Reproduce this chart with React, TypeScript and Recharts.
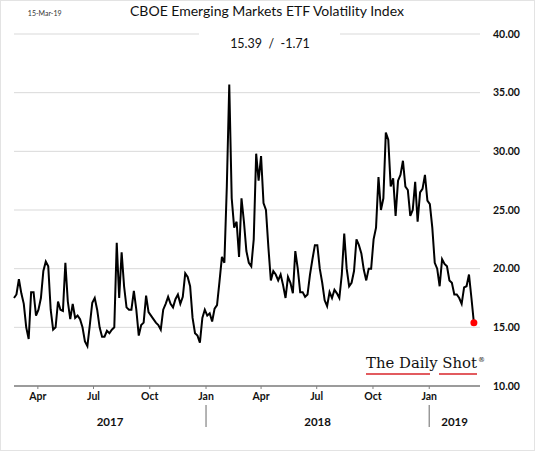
import React from "react";
import { LineChart, Line, XAxis, YAxis, CartesianGrid, ReferenceDot } from "recharts";

// day numbers count from 1-Jan-2017, one reading every 4 days
const START_DAY = 51;
const STEP_DAYS = 4;
const X_DOMAIN = [51, 813];

const vol2017 = [
  17.5, 17.8, 19.1, 17.9, 17.0, 15.0, 14.0, 18.0, 18.0, 16.0,
  16.5, 17.5, 19.8, 20.6, 20.2, 16.5, 14.8, 15.0, 17.2, 16.5,
  16.4, 20.5, 17.2, 15.7, 17.0, 15.8, 16.0, 15.7, 15.0, 13.8,
  13.4, 15.2, 17.1, 17.5, 16.5, 15.0, 14.2, 14.2, 14.7, 14.5,
  14.8, 15.0, 22.2, 17.5, 21.4, 18.5, 16.7, 16.5, 16.5, 18.1,
  16.5, 14.3, 15.2, 15.4, 17.7, 16.3, 16.0, 15.7, 15.4, 15.2,
  14.8, 16.5, 17.0, 17.6, 17.0, 16.7, 17.4, 17.8, 17.0, 17.6,
  19.6, 19.3, 18.5, 15.8, 14.5, 14.3, 13.7, 15.8, 16.5,
];

const vol2018 = [
  16.0, 16.2, 15.5, 16.6, 16.9, 18.9, 21.0, 20.5, 27.0, 35.7,
  26.0, 23.5, 24.0, 21.0, 26.0, 24.0, 21.5, 20.5, 20.2, 22.5,
  29.8, 27.5, 29.6, 25.6, 25.0, 21.8, 19.0, 19.8, 19.5, 19.0,
  19.5, 18.6, 17.5, 19.3, 18.8, 17.9, 21.5, 20.0, 18.0, 18.0,
  17.6, 17.8, 19.5, 20.8, 22.0, 22.0, 20.0, 18.8, 17.3, 16.8,
  18.0, 17.5, 18.2, 17.9, 17.5, 19.5, 23.0, 20.0, 18.5, 18.8,
  19.8, 22.5, 22.0, 21.3, 19.9, 19.0, 20.0, 20.0, 22.5, 23.5,
  27.8, 25.0, 26.0, 31.6, 31.0, 27.0, 27.7, 24.5, 27.5, 28.0,
  29.2, 27.0, 26.7, 24.5, 25.0, 27.4, 24.0, 26.5, 26.8, 28.0,
  25.8,
];

const vol2019 = [
  25.5, 23.5, 20.5, 20.0, 18.5, 20.8, 20.4, 20.2, 19.0, 18.8,
  17.8, 17.8, 17.5, 17.0, 18.4, 18.5, 19.5, 17.5, 15.39,
];

const yTicks = [10, 15, 20, 25, 30, 35, 40];
const monthTicks = [90, 181, 273, 365, 455, 546, 638, 730];
const monthLabels = ["Apr", "Jul", "Oct", "Jan", "Apr", "Jul", "Oct", "Jan"];
const yearStarts = [365, 730];
const yearLabels = ["2017", "2018", "2019"];

const volatility = [...vol2017, ...vol2018, ...vol2019];
const chartData = volatility.map((v, i) => ({ day: START_DAY + i * STEP_DAYS, value: v }));
const last = chartData[chartData.length - 1];

const bounds = [X_DOMAIN[0], ...yearStarts, X_DOMAIN[1]];
const yearMids = yearLabels.map((_, i) => (bounds[i] + bounds[i + 1]) / 2);
const yearTicks = [...yearMids, ...yearStarts].sort((a, b) => a - b);

const FONT = "Lato, 'Open Sans', sans-serif";

function YearTick(props: any) {
  const { x, y, payload } = props;
  if (yearStarts.includes(payload.value)) {
    return <line x1={x} x2={x} y1={y + 1} y2={y + 23} stroke="#8c8c8c" strokeWidth={1.3} />;
  }
  const label = yearLabels[yearMids.indexOf(payload.value)];
  return (
    <text x={x} y={y + 22} textAnchor="middle" fontSize={11.5} fontWeight={700} fontFamily={FONT} fill="#111">
      {label}
    </text>
  );
}

export default function App() {
  return (
    <div style={{ position: "absolute", left: 0, top: 0, width: 540, height: 454, background: "#fff" }}>
      <LineChart
        width={540}
        height={454}
        data={chartData}
        margin={{ top: 34, right: 0, bottom: 19, left: 14 }}
      >
        <CartesianGrid vertical={false} stroke="#d9d9d9" strokeWidth={1} />
        <XAxis
          dataKey="day"
          type="number"
          domain={X_DOMAIN}
          ticks={monthTicks}
          interval={0}
          height={18}
          tickFormatter={(v) => monthLabels[monthTicks.indexOf(v)]}
          axisLine={{ stroke: "#808080", strokeWidth: 1.5 }}
          tickLine={{ stroke: "#808080" }}
          tickSize={3}
          tickMargin={4}
          tick={{ fontSize: 10.5, fontWeight: 700, fontFamily: FONT, fill: "#111" }}
        />
        <XAxis
          xAxisId="year"
          dataKey="day"
          type="number"
          domain={X_DOMAIN}
          ticks={yearTicks}
          interval={0}
          height={31}
          axisLine={false}
          tickLine={false}
          tickSize={0}
          tickMargin={0}
          tick={(p: any) => <YearTick {...p} />}
        />
        <YAxis
          orientation="right"
          domain={[10, 40]}
          ticks={yTicks}
          interval={0}
          width={60}
          axisLine={false}
          tickLine={false}
          tickSize={0}
          tickMargin={13}
          tickFormatter={(v) => v.toFixed(2)}
          tick={{ fontSize: 10.5, fontWeight: 700, fontFamily: FONT, fill: "#111" }}
        />
        <Line
          dataKey="value"
          type="linear"
          stroke="#000"
          strokeWidth={2}
          dot={false}
          isAnimationActive={false}
        />
        <ReferenceDot x={last.day} y={last.value} r={3.5} fill="#ff0000" stroke="none" />
      </LineChart>

      <svg width={540} height={454} style={{ position: "absolute", left: 0, top: 0, pointerEvents: "none" }}>
        <rect x={0.5} y={0.5} width={534} height={450} fill="none" stroke="#e3e3e3" />
        <text x={44.7} y={15.5} textAnchor="middle" fontSize={7} fontFamily={FONT} fill="#333">
          15-Mar-19
        </text>
        <text x={267} y={16} textAnchor="middle" fontSize={14} fontFamily={FONT} fill="#111">
          CBOE Emerging Markets ETF Volatility Index
        </text>
        <rect x={199} y={28} width={141} height={26} fill="#fff" />
        <text x={270} y={47.7} textAnchor="middle" fontSize={12.5} fontFamily={FONT} fill="#111" style={{ whiteSpace: "pre" }}>
          {"15.39  /  -1.71"}
        </text>
        <text x={366} y={368.3} fontSize={14.5} fontFamily="'DejaVu Serif', serif" fill="#111" textLength={111} lengthAdjust="spacingAndGlyphs">
          The Daily Shot
        </text>
        <text x={478} y={362} fontSize={7} fontFamily="'DejaVu Serif', serif" fill="#111">®</text>
        <line x1={366} x2={430} y1={374} y2={374} stroke="#d9252a" strokeWidth={1.3} />
        <line x1={439} x2={477} y1={374} y2={374} stroke="#d9252a" strokeWidth={1.3} />
      </svg>
    </div>
  );
}
